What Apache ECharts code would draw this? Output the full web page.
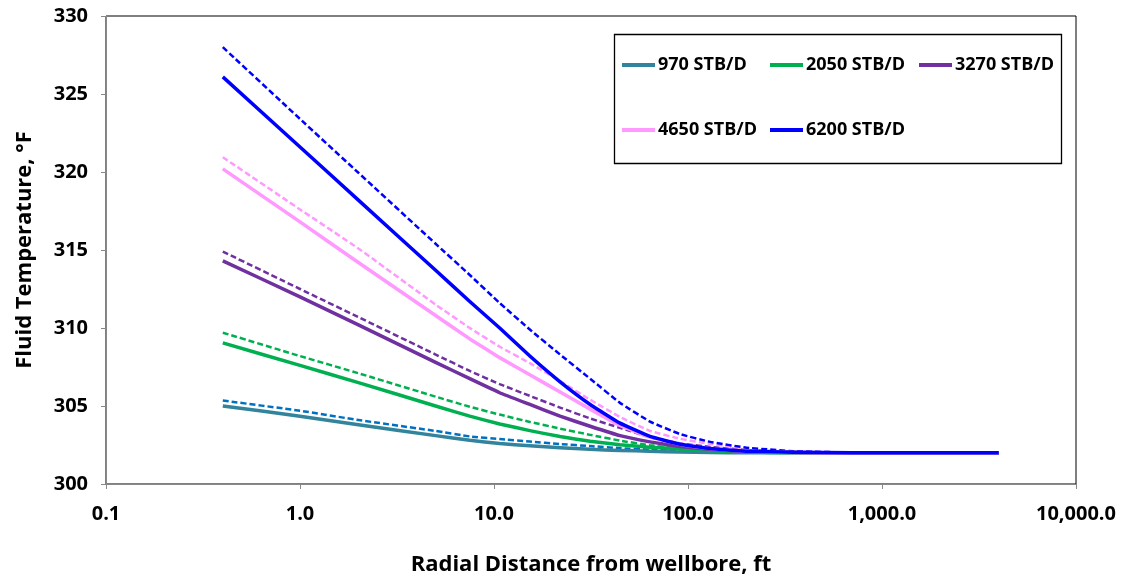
<!DOCTYPE html>
<html>
<head>
<meta charset="utf-8">
<script src="https://cdn.jsdelivr.net/npm/echarts@6/dist/echarts.min.js"></script>
<style>
html,body{margin:0;padding:0;background:#fff;}
#chart{width:1123px;height:581px;}
</style>
</head>
<body>
<div id="chart"></div>
<script>
// Radial distance, ft
const radius = [0.4, 1, 2, 5, 7.5, 10.7, 15.3, 21.9, 31.3, 44.6, 63.7, 91, 130, 200, 350, 700, 1500, 4000];
const seriesNames = ['970 STB/D', '2050 STB/D', '3270 STB/D', '4650 STB/D', '6200 STB/D'];
// Solid curves (fluid temperature, °F)
const solid970  = [305.0, 304.35, 303.8, 303.1, 302.8, 302.6, 302.45, 302.33, 302.22, 302.15, 302.1, 302.05, 302.02, 302.0, 302.0, 302.0, 302.0, 302.0];
const solid2050 = [309.05, 307.6, 306.5, 305.0, 304.35, 303.85, 303.42, 303.04, 302.74, 302.52, 302.36, 302.25, 302.15, 302.06, 302.0, 302.0, 302.0, 302.0];
const solid3270 = [314.3, 312.0, 310.2, 307.8, 306.75, 305.85, 305.1, 304.35, 303.7, 303.1, 302.7, 302.4, 302.22, 302.08, 302.02, 302.0, 302.0, 302.0];
const solid4650 = [320.2, 316.8, 314.2, 310.8, 309.3, 308.1, 307.0, 305.9, 304.8, 303.75, 303.0, 302.55, 302.28, 302.1, 302.02, 302.0, 302.0, 302.0];
const solid6200 = [326.1, 321.6, 318.2, 313.7, 311.7, 310.0, 308.2, 306.55, 305.1, 303.9, 303.05, 302.55, 302.27, 302.1, 302.03, 302.0, 302.0, 302.0];
// Dashed curves (fluid temperature, °F)
const dash970  = [305.35, 304.7, 304.1, 303.4, 303.05, 302.88, 302.72, 302.56, 302.43, 302.3, 302.2, 302.13, 302.08, 302.03, 302.0, 302.0, 302.0, 302.0];
const dash2050 = [309.7, 308.2, 307.1, 305.6, 304.95, 304.45, 303.98, 303.55, 303.15, 302.78, 302.48, 302.28, 302.15, 302.06, 302.0, 302.0, 302.0, 302.0];
const dash3270 = [314.9, 312.5, 310.7, 308.3, 307.25, 306.4, 305.65, 304.9, 304.2, 303.6, 303.0, 302.6, 302.38, 302.18, 302.05, 302.0, 302.0, 302.0];
const dash4650 = [320.95, 317.6, 315.1, 311.5, 310.0, 308.8, 307.75, 306.6, 305.4, 304.3, 303.4, 302.9, 302.57, 302.27, 302.08, 302.02, 302.0, 302.0];
const dash6200 = [328.0, 323.4, 319.95, 315.4, 313.4, 311.6, 309.9, 308.3, 306.75, 305.2, 304.0, 303.2, 302.7, 302.33, 302.1, 302.02, 302.0, 302.0];
const xTicks = [0.1, 1, 10, 100, 1000, 10000];
const xTickLabels = ['0.1', '1.0', '10.0', '100.0', '1,000.0', '10,000.0'];

const solidColors = ['#31849B', '#00B050', '#7030A0', '#FF99FF', '#0000FF'];
const dashColors  = ['#0070C0', '#00B050', '#7030A0', '#FF99FF', '#0000FF'];
const solids = [solid970, solid2050, solid3270, solid4650, solid6200];
const dashes = [dash970, dash2050, dash3270, dash4650, dash6200];

const FONT = '"Open Sans", "Noto Sans", sans-serif';

function pairs(ys) { return radius.map((r, i) => [r, ys[i]]); }

const series = [];
dashes.forEach((ys, i) => {
  series.push({
    name: seriesNames[i] + ' (dashed)', type: 'line', data: pairs(ys),
    smooth: 0.1,
    showSymbol: false, symbol: 'none', z: 2,
    lineStyle: { color: dashColors[i], width: 2.5, type: [6, 3], join: 'round' }
  });
});
solids.forEach((ys, i) => {
  series.push({
    name: seriesNames[i], type: 'line', data: pairs(ys),
    smooth: 0.1,
    showSymbol: false, symbol: 'none', z: 3,
    lineStyle: { color: solidColors[i], width: 3.5, join: 'round' }, itemStyle: { color: solidColors[i] }
  });
});

const legendPos = [
  { left: 622, top: 56 }, { left: 770, top: 56 }, { left: 919, top: 56 },
  { left: 622, top: 121 }, { left: 770, top: 121 }
];
const legends = seriesNames.map((n, i) => ({
  data: [n], left: legendPos[i].left, top: legendPos[i].top, orient: 'horizontal',
  padding: 0, itemWidth: 33, itemHeight: 4, itemGap: 0,
  icon: 'rect',
  textStyle: { fontFamily: FONT, fontWeight: 'bold', fontSize: 18, color: '#000', padding: [0, 0, 0, -2] }
}));

const chart = echarts.init(document.getElementById('chart'), null, { renderer: 'canvas' });
chart.setOption({
  animation: false,
  backgroundColor: '#fff',
  grid: { left: 106, right: 47, top: 16, bottom: 94, show: true, borderColor: '#000', borderWidth: 1 },
  legend: legends,
  graphic: [{
    type: 'rect', left: 612, top: 32, z: 0,
    shape: { width: 447, height: 129 },
    style: { fill: 'none', stroke: '#000', lineWidth: 1.3 }
  }],
  xAxis: {
    type: 'log', logBase: 10, min: 0.1, max: 10000,
    name: 'Radial Distance from wellbore, ft', nameLocation: 'middle', nameGap: 70,
    nameTextStyle: { fontFamily: FONT, fontWeight: 'bold', fontSize: 22, color: '#000' },
    axisLine: { show: true, lineStyle: { color: '#888', width: 1 } },
    axisTick: { show: true, length: 5, lineStyle: { color: '#888' } },
    splitLine: { show: false },
    axisLabel: {
      margin: 20, fontFamily: FONT, fontWeight: 'bold', fontSize: 20, color: '#000',
      formatter: v => { const k = xTicks.findIndex(t => Math.abs(t - v) / t < 1e-6); return k >= 0 ? xTickLabels[k] : ''; }
    }
  },
  yAxis: {
    type: 'value', min: 300, max: 330, interval: 5,
    name: 'Fluid Temperature, °F', nameLocation: 'middle', nameGap: 70, nameRotate: 90,
    nameTextStyle: { fontFamily: FONT, fontWeight: 'bold', fontSize: 22, color: '#000' },
    axisLine: { show: true, lineStyle: { color: '#888', width: 1 } },
    axisTick: { show: true, length: 5, lineStyle: { color: '#888' } },
    splitLine: { show: false },
    axisLabel: { margin: 18, fontFamily: FONT, fontWeight: 'bold', fontSize: 20, color: '#000' }
  },
  series: series
});
</script>
</body>
</html>
